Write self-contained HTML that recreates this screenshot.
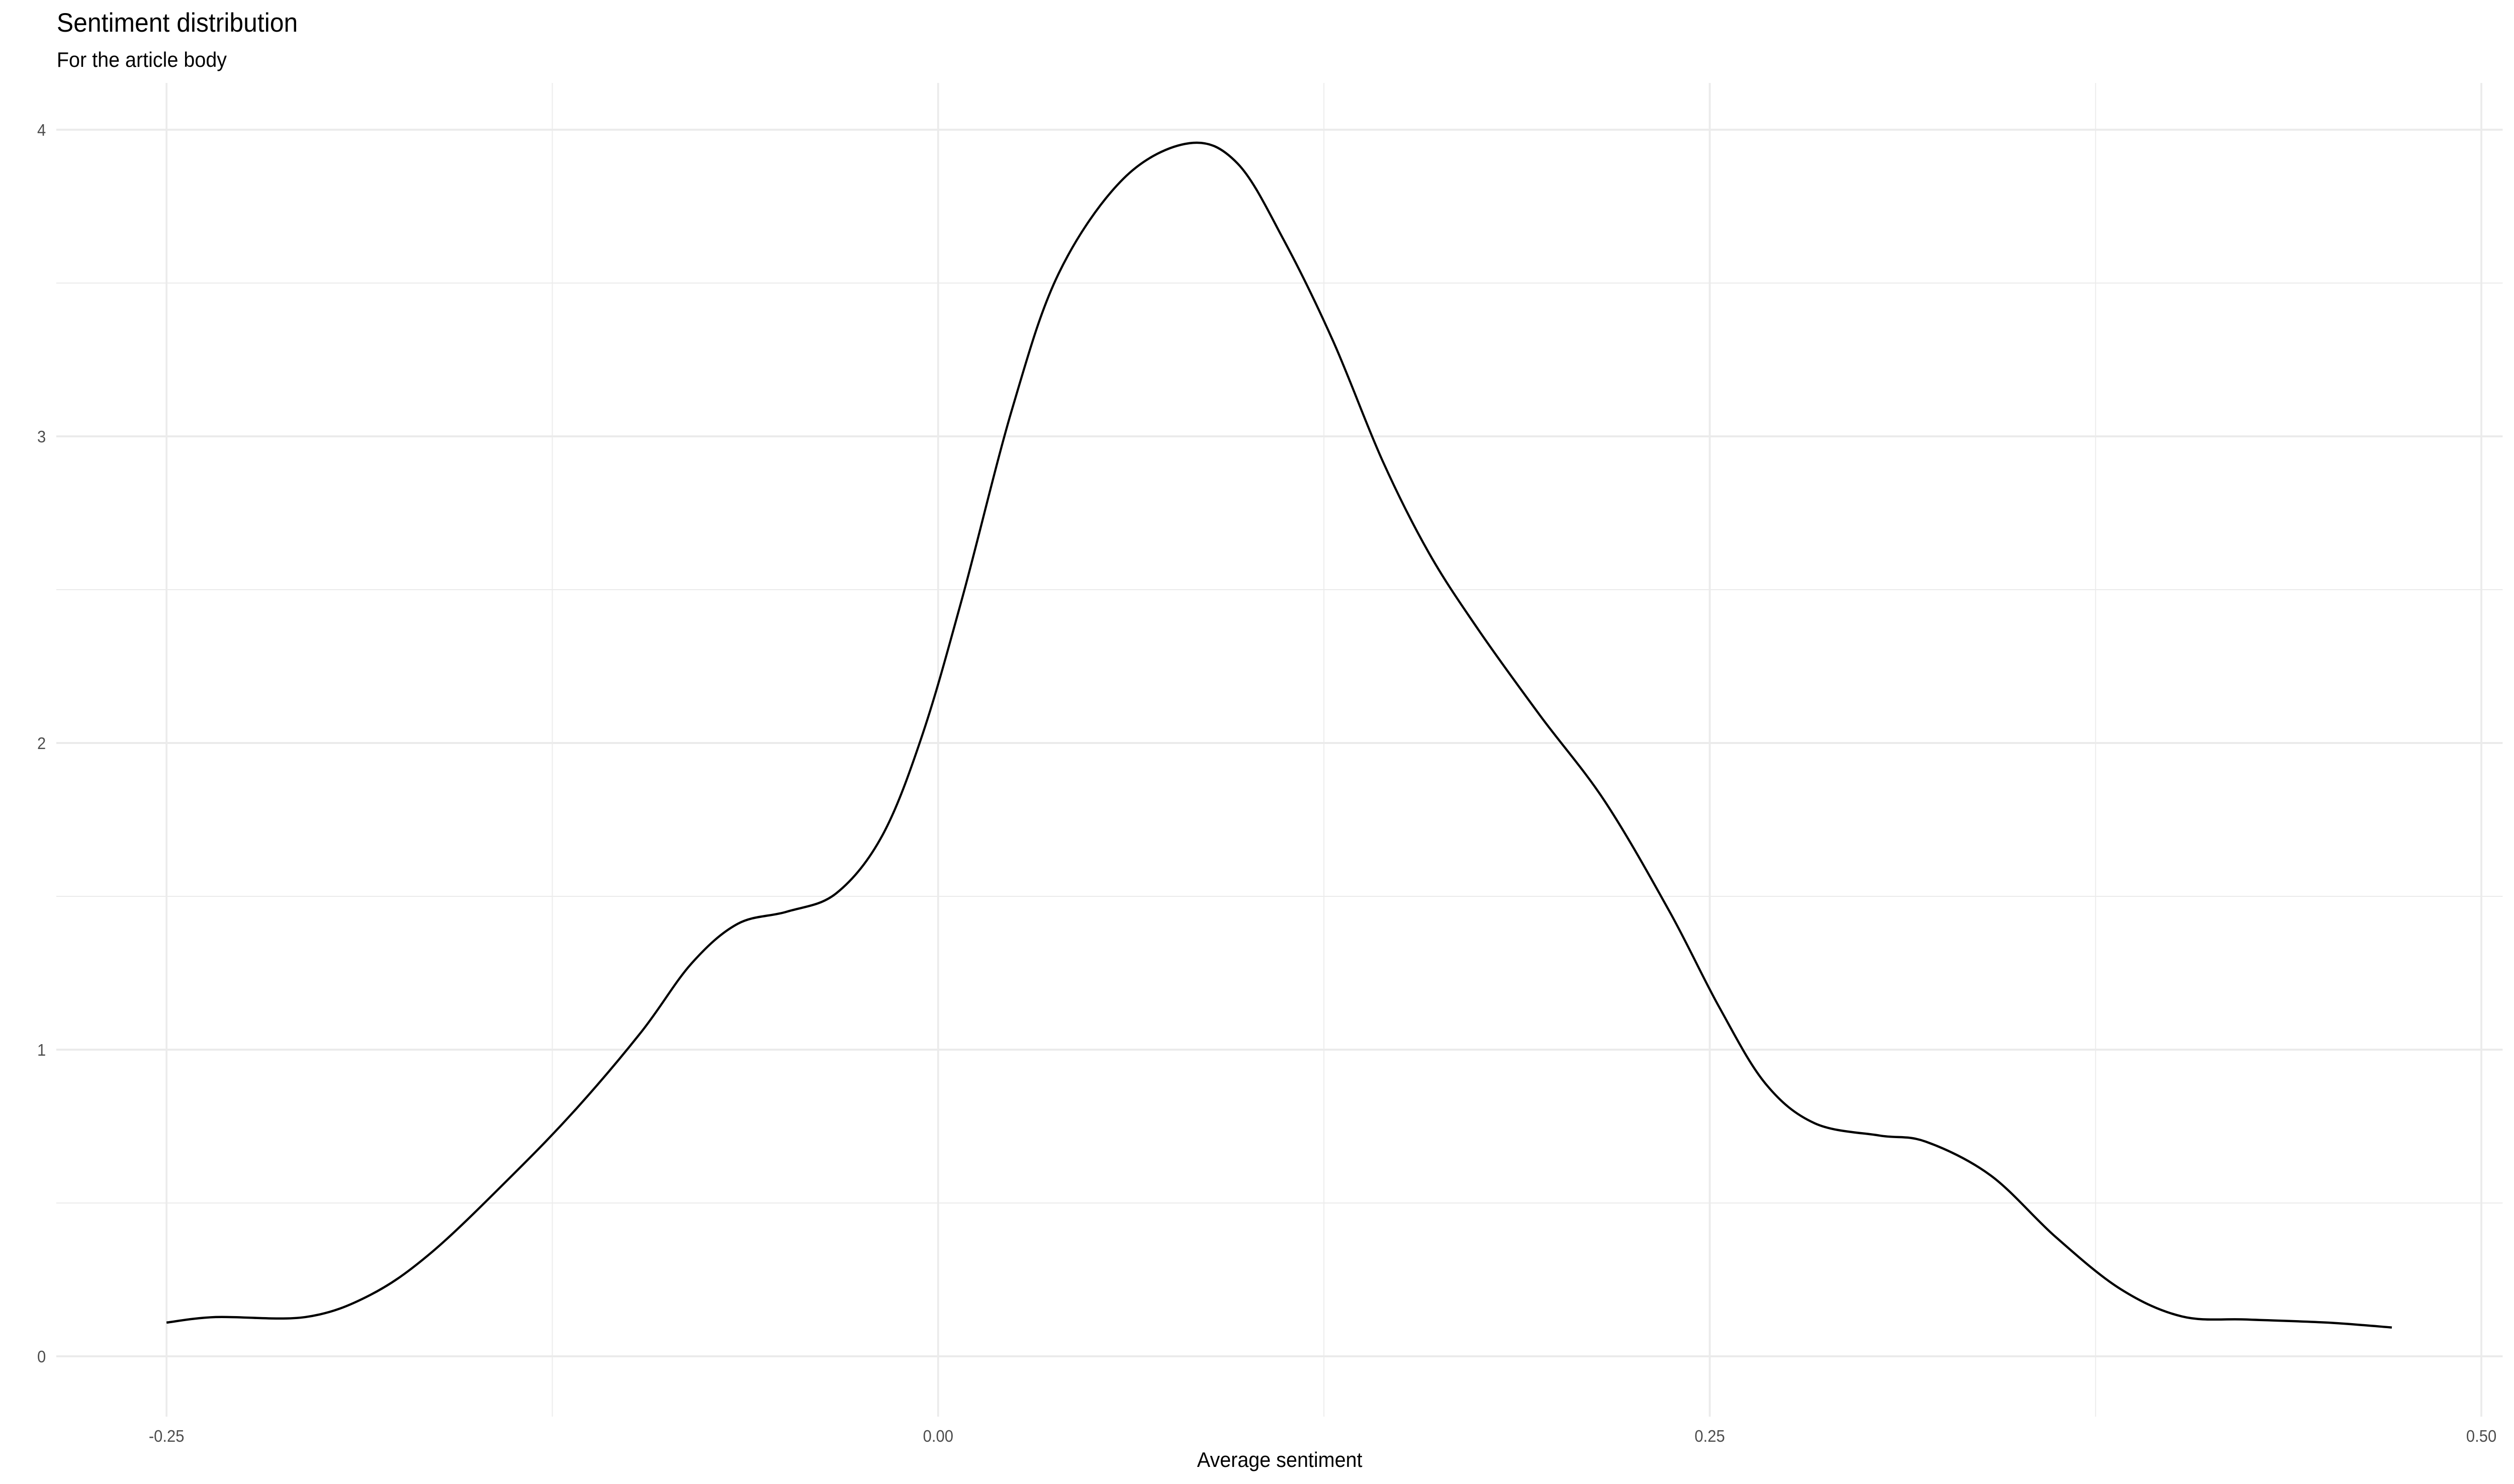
<!DOCTYPE html>
<html><head><meta charset="utf-8"><style>
html,body{margin:0;padding:0;background:#fff;overflow:hidden;width:100%;height:100%;}
svg{display:block;font-family:"Liberation Sans",sans-serif;width:100vw;height:100vh;}
</style></head><body>
<svg viewBox="0 0 5314 2952" preserveAspectRatio="none" xmlns="http://www.w3.org/2000/svg">
<rect width="5314" height="2952" fill="#fff"/>
<text x="120" y="63" font-size="53" fill="#000">Sentiment distribution</text>
<text x="120" y="133" font-size="42" fill="#000">For the article body</text>
<g id="grid"></g>
<g id="axes"></g>
<path id="curve" fill="none" stroke="#000" stroke-width="4.5" stroke-linejoin="round"/>
<text x="2705" y="2918" font-size="42" text-anchor="middle" fill="#000">Average sentiment</text>
</svg>
<script>
const xTicks = [-0.25, 0, 0.25, 0.5];
const xTickLabels = ["-0.25", "0.00", "0.25", "0.50"];
const yTicks = [0, 1, 2, 3, 4];
const yTickLabels = ["0", "1", "2", "3", "4"];
const sentimentX = [-0.25,-0.234,-0.205,-0.184,-0.164,-0.138,-0.117,-0.096,-0.080,-0.065,-0.049,-0.033,-0.018,-0.005,0.008,0.024,0.039,0.060,0.0814,0.097,0.112,0.128,0.144,0.159,0.175,0.195,0.216,0.237,0.253,0.268,0.284,0.305,0.320,0.341,0.362,0.383,0.403,0.424,0.450,0.471];
const densityY = [0.11,0.128,0.128,0.2,0.34,0.59,0.81,1.06,1.28,1.41,1.45,1.51,1.70,2.03,2.48,3.09,3.53,3.84,3.956,3.89,3.64,3.31,2.92,2.62,2.37,2.09,1.81,1.45,1.14,0.89,0.76,0.72,0.70,0.59,0.39,0.22,0.13,0.12,0.11,0.094];

const NS = "http://www.w3.org/2000/svg";
const panel = {left:119, right:5290, top:165, bottom:2818};
const sx = v => 1983 + (v - 0) * 6524;
const sy = v => 2698 - v * 610;
const grid = document.getElementById('grid');
const axes = document.getElementById('axes');
function line(x1,y1,x2,y2,w,name){
  const l = document.createElementNS(NS,'line');
  l.setAttribute('x1',x1);l.setAttribute('y1',y1);l.setAttribute('x2',x2);l.setAttribute('y2',y2);
  l.setAttribute('stroke','#ebebeb');l.setAttribute('stroke-width',w);
  
  
  grid.appendChild(l);
}
for(let i=0;i<xTicks.length-1;i++){
  const m=(xTicks[i]+xTicks[i+1])/2;
  line(sx(m),panel.top,sx(m),panel.bottom,2,'x-minor-gridline');
}
for(let i=0;i<yTicks.length-1;i++){
  const m=(yTicks[i]+yTicks[i+1])/2;
  line(panel.left,sy(m),panel.right,sy(m),2,'y-minor-gridline');
}
xTicks.forEach((t,i)=>{
  line(sx(t),panel.top,sx(t),panel.bottom,4,'x-major-gridline');
  const tx=document.createElementNS(NS,'text');
  tx.setAttribute('x',sx(t));tx.setAttribute('y',2868);tx.setAttribute('text-anchor','middle');
  tx.setAttribute('font-size','33');tx.setAttribute('fill','#4d4d4d');
  
  
  tx.textContent=xTickLabels[i];axes.appendChild(tx);
});
yTicks.forEach((t,i)=>{
  line(panel.left,sy(t),panel.right,sy(t),4,'y-major-gridline');
  const tx=document.createElementNS(NS,'text');
  tx.setAttribute('x',97);tx.setAttribute('y',sy(t)+12);tx.setAttribute('text-anchor','end');
  tx.setAttribute('font-size','33');tx.setAttribute('fill','#4d4d4d');
  
  
  tx.textContent=yTickLabels[i];axes.appendChild(tx);
});
const pts = sentimentX.map((x,i)=>[sx(x),sy(densityY[i])]);
let d = `M${pts[0][0]},${pts[0][1]}`;
for(let i=0;i<pts.length-1;i++){
  const p0=pts[i-1]||pts[i], p1=pts[i], p2=pts[i+1], p3=pts[i+2]||pts[i+1];
  const c1=[p1[0]+(p2[0]-p0[0])/6, p1[1]+(p2[1]-p0[1])/6];
  const c2=[p2[0]-(p3[0]-p1[0])/6, p2[1]-(p3[1]-p1[1])/6];
  d+=` C${c1[0]},${c1[1]} ${c2[0]},${c2[1]} ${p2[0]},${p2[1]}`;
}
document.getElementById('curve').setAttribute('d',d);
</script>
</body></html>
